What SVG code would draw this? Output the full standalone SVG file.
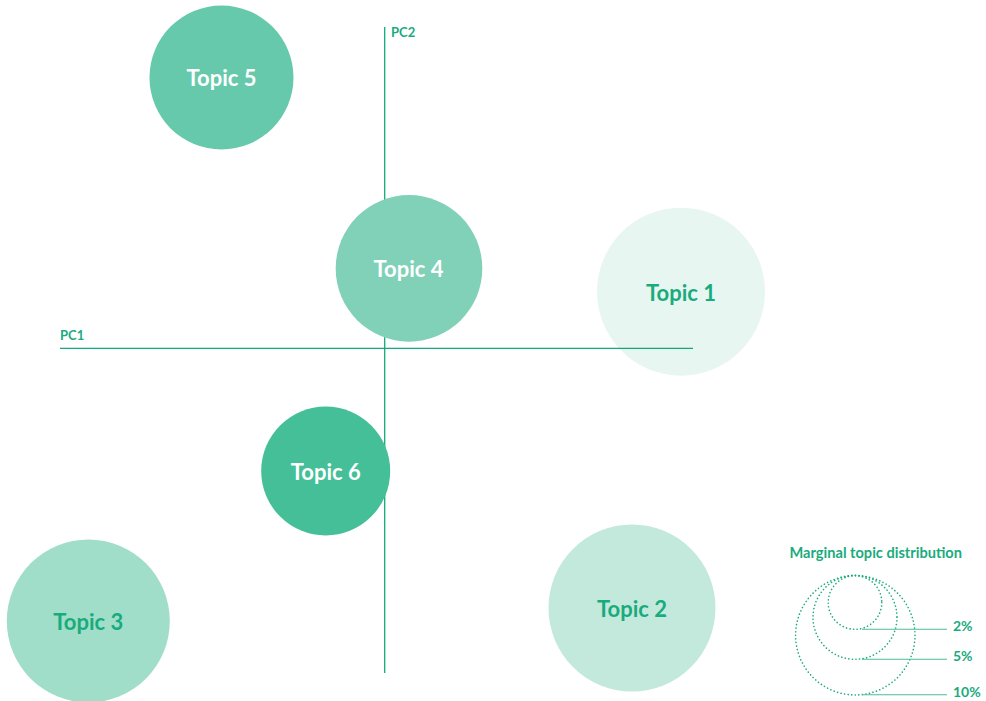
<svg xmlns="http://www.w3.org/2000/svg" width="986" height="701" viewBox="0 0 986 701">
<style>
.axis{stroke:#13a97a;stroke-width:1.3;fill:none}
.lbl{font-family:Lato,"Liberation Sans",sans-serif;font-weight:bold;fill:#1aab7d}
.ax{font-size:13px}
.tw{font-family:Lato,"Liberation Sans",sans-serif;font-weight:bold;font-size:22px;text-anchor:middle;fill:#ffffff}
.tg{font-family:Lato,"Liberation Sans",sans-serif;font-weight:bold;font-size:22px;text-anchor:middle;fill:#1aab7d}
.dot{fill:none;stroke:#1aab7d;stroke-width:1.6;stroke-dasharray:0.1 3.5;stroke-linecap:round}
.leg{stroke:#4dbd98;stroke-width:1.1}
.pct{font-size:14px}
</style>
<rect width="986" height="701" fill="#ffffff"/>
<g id="axes">
<line class="axis" x1="384.7" y1="27" x2="384.7" y2="673"/>
<line class="axis" x1="60" y1="348.3" x2="693" y2="348.3"/>
<text class="lbl ax" x="391" y="37">PC2</text>
<text class="lbl ax" x="60" y="340">PC1</text>
</g>
<g id="topic5"><circle cx="221.5" cy="77.5" r="72" fill="#67c9ab"/><text class="tw" x="221.5" y="86">Topic 5</text></g>
<g id="topic4"><circle cx="409" cy="268.4" r="73.3" fill="#80d1b8"/><text class="tw" x="408.5" y="277.3">Topic 4</text></g>
<g id="topic1"><circle cx="681" cy="291.7" r="84" fill="#13a97a" fill-opacity="0.1"/><text class="tg" x="681" y="300.5">Topic 1</text></g>
<g id="topic6"><circle cx="325.7" cy="471" r="64.5" fill="#45bf98"/><text class="tw" x="325.7" y="480">Topic 6</text></g>
<g id="topic3"><circle cx="88.3" cy="621" r="81.5" fill="#a0dec9"/><text class="tg" x="88.3" y="630">Topic 3</text></g>
<g id="topic2"><circle cx="632" cy="608" r="83.5" fill="#c3e9dd"/><text class="tg" x="632" y="617">Topic 2</text></g>
<g id="legend">
<text class="lbl" x="789.5" y="558" font-size="14.6">Marginal topic distribution</text>
<circle class="dot" cx="855" cy="602.5" r="26.8"/>
<circle class="dot" cx="855" cy="617.3" r="42"/>
<circle class="dot" cx="855.3" cy="635.3" r="59.7"/>
<line class="leg" x1="862" y1="629.3" x2="947" y2="629.3"/>
<line class="leg" x1="862" y1="659.3" x2="947" y2="659.3"/>
<line class="leg" x1="862" y1="694.8" x2="947" y2="694.8"/>
<text class="lbl pct" x="953" y="631">2%</text>
<text class="lbl pct" x="953" y="661">5%</text>
<text class="lbl pct" x="953" y="696.5">10%</text>
</g>
</svg>
